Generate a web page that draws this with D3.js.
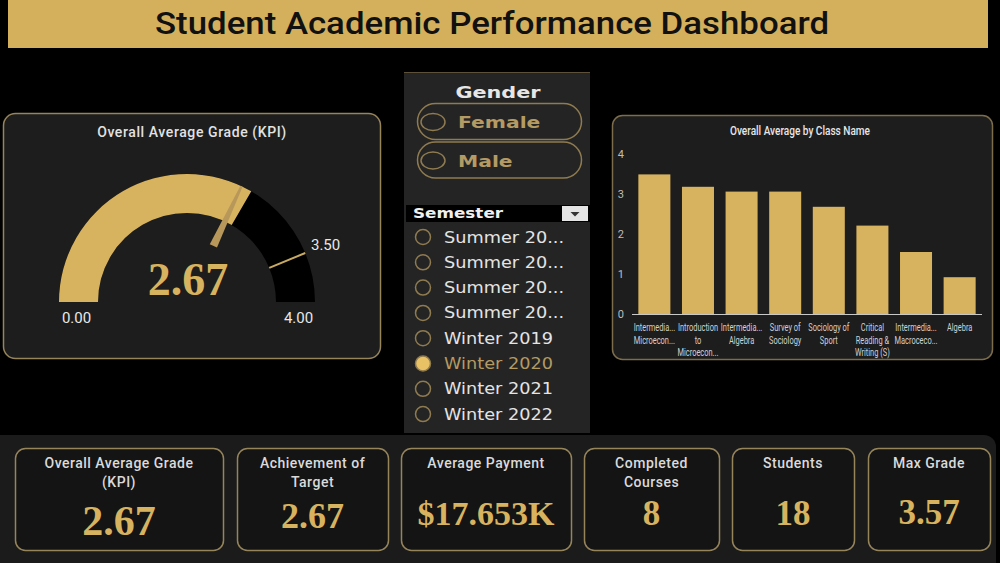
<!DOCTYPE html>
<meta charset="utf-8">
<script src="https://d3js.org/d3.v7.min.js"></script>
<style>
  body { margin: 0; background: #000; }
  svg { display: block; }
</style>
<div id="dash"></div>
<script>

    // data
    const gaugeMin = 0, gaugeMax = 4;
    const gaugeValue = 2.67;
    const gaugeTarget = 3.5;
    const needleValue = 2.56;

    const genderOptions = ["Female", "Male"];
    const semesterOptions = ["Summer 20...", "Summer 20...", "Summer 20...", "Summer 20...",
        "Winter 2019", "Winter 2020", "Winter 2021", "Winter 2022"];
    const selectedSemester = "Winter 2020";

    const classLabels = [
        ["Intermedia...", "Microecon..."],
        ["Introduction", "to", "Microecon..."],
        ["Intermedia...", "Algebra"],
        ["Survey of", "Sociology"],
        ["Sociology of", "Sport"],
        ["Critical", "Reading &", "Writing (S)"],
        ["Intermedia...", "Macroceco..."],
        ["Algebra"]
    ];
    const classAvg = [3.49, 3.18, 3.06, 3.06, 2.68, 2.21, 1.55, 0.92];
    const yTicks = [0, 1, 2, 3, 4];

    const kpiTitles = [["Overall Average Grade", "(KPI)"], ["Achievement of", "Target"], ["Average Payment"],
        ["Completed", "Courses"], ["Students"], ["Max Grade"]];
    const kpiValues = ["2.67", "2.67", "$17.653K", "8", "18", "3.57"];

    // colours
    const gold = "#d8b35f";
    const border = "#96845a";
    const sans = "Roboto, 'Noto Sans', sans-serif";
    const serif = "'Liberation Serif', serif";
    const wide = "'DejaVu Sans', sans-serif";

    const svg = d3.select("#dash").append("svg")
        .attr("width", 1000)
        .attr("height", 563);

    svg.append("rect").attr("width", 1000).attr("height", 563).attr("fill", "#000");

    // title banner
    svg.append("rect")
        .attr("x", 8).attr("y", -6).attr("width", 980).attr("height", 54)
        .attr("fill", "#d4b05c");
    svg.append("text")
        .attr("x", 492).attr("y", 34)
        .attr("text-anchor", "middle")
        .attr("font-family", sans).attr("font-weight", 500).attr("font-size", 31)
        .attr("textLength", 674).attr("lengthAdjust", "spacingAndGlyphs")
        .attr("fill", "#111")
        .text("Student Academic Performance Dashboard");

    // ---------------- gauge ----------------
    svg.append("rect")
        .attr("x", 3.5).attr("y", 113.5).attr("width", 377).attr("height", 245).attr("rx", 12)
        .attr("fill", "#1d1d1d").attr("stroke", border).attr("stroke-width", 1.5);
    svg.append("text")
        .attr("x", 192).attr("y", 137).attr("text-anchor", "middle")
        .attr("font-family", sans).attr("font-weight", 500).attr("font-size", 14)
        .attr("letter-spacing", 0.6)
        .attr("fill", "#e2e2e2")
        .text("Overall Average Grade (KPI)");

    const cx = 187, cy = 302, rOut = 128, rIn = 89;
    const ang = d3.scaleLinear().domain([gaugeMin, gaugeMax]).range([-Math.PI / 2, Math.PI / 2]);
    const arc = d3.arc().innerRadius(rIn).outerRadius(rOut);
    const g = svg.append("g").attr("transform", `translate(${cx},${cy})`);

    g.append("path")
        .attr("d", arc({startAngle: ang(gaugeMin), endAngle: ang(gaugeMax)}))
        .attr("fill", "#000");
    g.append("path")
        .attr("d", arc({startAngle: ang(gaugeMin), endAngle: ang(gaugeValue)}))
        .attr("fill", gold);

    // target line
    const polar = (r, a) => [r * Math.sin(a), -r * Math.cos(a)];
    const tA = ang(gaugeTarget);
    g.append("line")
        .attr("x1", polar(rIn, tA)[0]).attr("y1", polar(rIn, tA)[1])
        .attr("x2", polar(rOut, tA)[0]).attr("y2", polar(rOut, tA)[1])
        .attr("stroke", "#c9aa62").attr("stroke-width", 2);
    g.append("text")
        .attr("x", polar(150, tA)[0]).attr("y", polar(150, tA)[1] + 5)
        .attr("text-anchor", "middle")
        .attr("font-family", sans).attr("font-size", 15).attr("fill", "#e8e8e8")
        .text(gaugeTarget.toFixed(2));

    // needle wedge
    const nA = ang(needleValue);
    const perp = nA + Math.PI / 2;
    const off = (p, w) => [p[0] + w * Math.sin(perp), p[1] - w * Math.cos(perp)];
    const base = polar(62, nA), tip = polar(128, nA);
    g.append("path")
        .attr("d", d3.line()([off(base, -4), off(tip, -1.2), off(tip, 1.2), off(base, 4)]) + "Z")
        .attr("fill", "#b8985a");

    // min / max labels, centred under the ends of the band
    const mid = (rOut + rIn) / 2;
    g.selectAll(".ends")
        .data([gaugeMin, gaugeMax])
        .join("text")
        .attr("x", d => polar(mid, ang(d))[0] + (d === gaugeMin ? -2 : 3))
        .attr("y", 21)
        .attr("text-anchor", "middle")
        .attr("font-family", sans).attr("font-size", 15).attr("fill", "#e8e8e8")
        .text(d => d.toFixed(2));

    g.append("text")
        .attr("x", 1).attr("y", -7).attr("text-anchor", "middle")
        .attr("font-family", serif).attr("font-weight", "bold").attr("font-size", 46)
        .attr("fill", gold)
        .text(gaugeValue.toFixed(2));

    // ---------------- slicers ----------------
    // the slicer text in the source is stretched sideways, hence the scale(sx,1)
    svg.append("rect")
        .attr("x", 404).attr("y", 72).attr("width", 186).attr("height", 361)
        .attr("fill", "#242424");
    svg.append("line")
        .attr("x1", 404).attr("x2", 590).attr("y1", 72.5).attr("y2", 72.5)
        .attr("stroke", "#5e513a").attr("stroke-width", 1);
    svg.append("text")
        .attr("transform", "translate(498,98) scale(1.3,1)")
        .attr("text-anchor", "middle")
        .attr("font-family", wide).attr("font-weight", "bold").attr("font-size", 16)
        .attr("fill", "#e6e6e6")
        .text("Gender");

    const pill = svg.selectAll(".pill")
        .data(genderOptions)
        .join("g")
        .attr("transform", (d, i) => `translate(0,${103 + i * 38.5})`);
    pill.append("rect")
        .attr("x", 417.5).attr("y", 0.5).attr("width", 164).attr("height", 36).attr("rx", 18)
        .attr("fill", "none").attr("stroke", "#8f7b50").attr("stroke-width", 1.5);
    pill.append("ellipse")
        .attr("cx", 433).attr("cy", 19).attr("rx", 12).attr("ry", 8.5)
        .attr("fill", "none").attr("stroke", "#8f7b50").attr("stroke-width", 1.5);
    pill.append("text")
        .attr("transform", "translate(458,25) scale(1.27,1)")
        .attr("font-family", wide).attr("font-weight", "bold").attr("font-size", 16)
        .attr("fill", "#b49a63")
        .text(d => d);

    // semester header
    svg.append("rect")
        .attr("x", 406).attr("y", 205).attr("width", 184).attr("height", 17)
        .attr("fill", "#000");
    svg.append("text")
        .attr("transform", "translate(413,218) scale(1.2,1)")
        .attr("font-family", wide).attr("font-weight", "bold").attr("font-size", 14)
        .attr("fill", "#f0f0f0")
        .text("Semester");
    svg.append("rect")
        .attr("x", 562).attr("y", 206).attr("width", 26).attr("height", 15)
        .attr("fill", "#e4e4e4");
    svg.append("path")
        .attr("d", "M570.5,212 L579.5,212 L575,216.5 Z")
        .attr("fill", "#333");

    const sem = svg.selectAll(".sem")
        .data(semesterOptions)
        .join("g")
        .attr("transform", (d, i) => `translate(0,${237 + i * 25.3})`);
    sem.append("circle")
        .attr("cx", 423).attr("cy", 0).attr("r", 7.5)
        .attr("fill", d => d === selectedSemester ? "#e9c266" : "none")
        .attr("stroke", "#8f7b50").attr("stroke-width", 1.5);
    sem.append("text")
        .attr("transform", "translate(444,5.5) scale(1.18,1)")
        .attr("font-family", wide).attr("font-size", 15)
        .attr("fill", d => d === selectedSemester ? "#b49a63" : "#e4e4e4")
        .text(d => d);

    // ---------------- bar chart ----------------
    svg.append("rect")
        .attr("x", 612.5).attr("y", 115.5).attr("width", 380).attr("height", 244).attr("rx", 10)
        .attr("fill", "#1d1d1d").attr("stroke", "#7c6d4c").attr("stroke-width", 1.5);
    svg.append("text")
        .attr("x", 800).attr("y", 135).attr("text-anchor", "middle")
        .attr("font-family", sans).attr("font-weight", 500).attr("font-size", 12)
        .attr("textLength", 140).attr("lengthAdjust", "spacingAndGlyphs")
        .attr("fill", "#e6e6e6")
        .text("Overall Average by Class Name");

    const x = d3.scaleBand()
        .domain(d3.range(classAvg.length))
        .range([634, 980])
        .paddingInner(0.266)
        .paddingOuter(0.1);
    const y = d3.scaleLinear()
        .domain([0, 4])
        .range([314, 154]);

    const yAxis = svg.append("g")
        .attr("transform", "translate(627,0)")
        .call(d3.axisLeft(y).tickValues(yTicks).tickSize(0).tickFormat(d3.format("d")));
    yAxis.select(".domain").remove();
    yAxis.selectAll("text")
        .attr("font-family", sans).attr("font-size", 11).attr("fill", "#bdbdbd");

    svg.selectAll(".bar")
        .data(classAvg)
        .join("rect")
        .attr("x", (d, i) => x(i))
        .attr("y", d => y(d))
        .attr("width", x.bandwidth())
        .attr("height", d => y(0) - y(d))
        .attr("fill", gold);

    svg.append("line")
        .attr("x1", 632).attr("x2", 982).attr("y1", y(0) + 0.5).attr("y2", y(0) + 0.5)
        .attr("stroke", "#c8c8c8").attr("stroke-width", 1);

    // category labels, one text per line, narrowed to look condensed
    const labelLines = classLabels.flatMap((lines, i) => lines.map((t, j) => ({t, i, j})));
    svg.selectAll(".xl")
        .data(labelLines)
        .join("text")
        .attr("text-anchor", "middle")
        .attr("transform", d => `translate(${x(d.i) + x.bandwidth() / 2},${331 + d.j * 12.5}) scale(0.71,1)`)
        .attr("font-family", sans).attr("font-size", 10.5)
        .attr("fill", "#d0d0d0")
        .text(d => d.t);

    // ---------------- KPI strip ----------------
    svg.append("rect")
        .attr("x", -12).attr("y", 435).attr("width", 1008).attr("height", 140).attr("rx", 12)
        .attr("fill", "#1b1b1b");

    const kpiBoxes = [[15, 223], [237, 388], [401, 571], [584, 719], [732, 854], [868, 990]];
    const kpiValueY = [535, 528, 525, 525, 525, 524];
    const kpiValueSize = [42, 36, 34, 35, 35, 35];

    const card = svg.selectAll(".card")
        .data(kpiValues)
        .join("g");
    card.append("rect")
        .attr("x", (d, i) => kpiBoxes[i][0] + 0.5)
        .attr("y", 448.5)
        .attr("width", (d, i) => kpiBoxes[i][1] - kpiBoxes[i][0])
        .attr("height", 102)
        .attr("rx", 10)
        .attr("fill", "#141414").attr("stroke", border).attr("stroke-width", 1.5);
    card.append("text")
        .attr("text-anchor", "middle")
        .attr("font-family", sans).attr("font-weight", 500).attr("font-size", 14)
        .attr("letter-spacing", 0.5)
        .attr("fill", "#dadada")
        .selectAll("tspan")
        .data((d, i) => kpiTitles[i].map(t => ({t, i})))
        .join("tspan")
        .attr("x", d => (kpiBoxes[d.i][0] + kpiBoxes[d.i][1]) / 2)
        .attr("y", (d, j) => 468 + j * 18.5)
        .text(d => d.t);
    card.append("text")
        .attr("x", (d, i) => (kpiBoxes[i][0] + kpiBoxes[i][1]) / 2)
        .attr("y", (d, i) => kpiValueY[i])
        .attr("text-anchor", "middle")
        .attr("font-family", serif).attr("font-weight", "bold")
        .attr("font-size", (d, i) => kpiValueSize[i])
        .attr("fill", gold)
        .text(d => d);

</script>
